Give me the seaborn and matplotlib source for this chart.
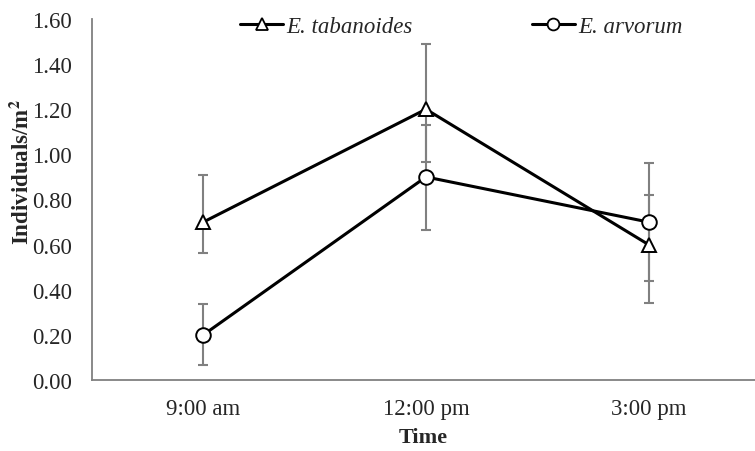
import numpy as np
import pandas as pd
import matplotlib
matplotlib.use("Agg")
import matplotlib.pyplot as plt
from matplotlib.lines import Line2D
import seaborn as sns

times = ["9:00 am", "12:00 pm", "3:00 pm"]
species = ["E. tabanoides", "E. arvorum"]
tab_mean = [0.70, 1.20, 0.60]
tab_upper = [0.91, 1.49, 0.82]
tab_lower = [0.565, 0.965, 0.44]
arv_mean = [0.20, 0.90, 0.70]
arv_upper = [0.335, 1.13, 0.96]
arv_lower = [0.065, 0.665, 0.34]
yticks = [0.0, 0.2, 0.4, 0.6, 0.8, 1.0, 1.2, 1.4, 1.6]

sns.set_theme(style="white")
plt.rcParams["font.family"] = ["Liberation Serif", "DejaVu Serif"]
plt.rcParams["mathtext.fontset"] = "stix"

df = pd.DataFrame({
    "pos": list(range(3)) * 2,
    "value": tab_mean + arv_mean,
    "species": [species[0]] * 3 + [species[1]] * 3,
})

fig = plt.figure(figsize=(7.55, 4.52), dpi=100)
ax = fig.add_axes([92 / 755, 71 / 452, (755 - 92) / 755, 361 / 452])

gray = "#808080"
for m, lo, up in [(tab_mean, tab_lower, tab_upper), (arv_mean, arv_lower, arv_upper)]:
    m = np.array(m)
    ax.errorbar(range(3), m, yerr=[m - np.array(lo), np.array(up) - m], fmt="none",
                ecolor=gray, elinewidth=1.5, capsize=3.8, capthick=1.5, zorder=1)

sns.lineplot(data=df, x="pos", y="value", hue="species", style="species",
             palette=["black", "black"], markers={species[0]: "^", species[1]: "o"},
             dashes=False, linewidth=2.2, markersize=10.5, markerfacecolor="white",
             markeredgecolor="black", markeredgewidth=1.4, legend=False, ax=ax, zorder=3)

ax.set_xlim(-0.5, 2.478)
ax.set_ylim(0, 1.6)
ax.set_yticks(yticks)
ax.set_yticklabels([f"{v:.2f}" for v in yticks])
ax.set_xticks([-0.5, 0.5, 1.5])
ax.set_xticklabels([])
ax.set_xticks(range(3), minor=True)
ax.set_xticklabels(times, minor=True)
ax.tick_params(axis="x", which="minor", length=0, pad=13, labelsize=16.5)
ax.tick_params(axis="x", which="major", length=6, width=1.2, color=gray, direction="out")
ax.tick_params(axis="y", length=6, width=1.2, color=gray, direction="out", labelsize=16.5, pad=8.5)
for s in ["top", "right"]:
    ax.spines[s].set_visible(False)
for s in ["left", "bottom"]:
    ax.spines[s].set_color(gray)
    ax.spines[s].set_linewidth(1.3)

ax.set_xlabel("Time", fontsize=16, fontweight="bold")
ax.xaxis.set_label_coords((423 - 92) / 663, (381 - 428) / 361)
ax.set_ylabel("Individuals/m$^\\mathbf{2}$", fontsize=16.5, fontweight="bold")
ax.yaxis.set_label_coords((34 - 92) / 663, 0.58)

handles = [
    Line2D([], [], color="black", lw=2.2, marker="^", markersize=9, markerfacecolor="white",
           markeredgecolor="black", markeredgewidth=1.3),
    Line2D([], [], color="black", lw=2.2, marker="o", markersize=8.5, markerfacecolor="white",
           markeredgecolor="black", markeredgewidth=1.3),
]
leg = ax.legend(handles, species, loc="upper left", bbox_to_anchor=(240 / 755, 1 - 17 / 452),
                bbox_transform=fig.transFigure, ncol=2, frameon=False, borderpad=0,
                borderaxespad=0, prop={"size": 16.5, "style": "italic"}, handlelength=1.88,
                handletextpad=0.15, columnspacing=5.2)

fig.savefig("out.png", dpi=100, facecolor="white")
